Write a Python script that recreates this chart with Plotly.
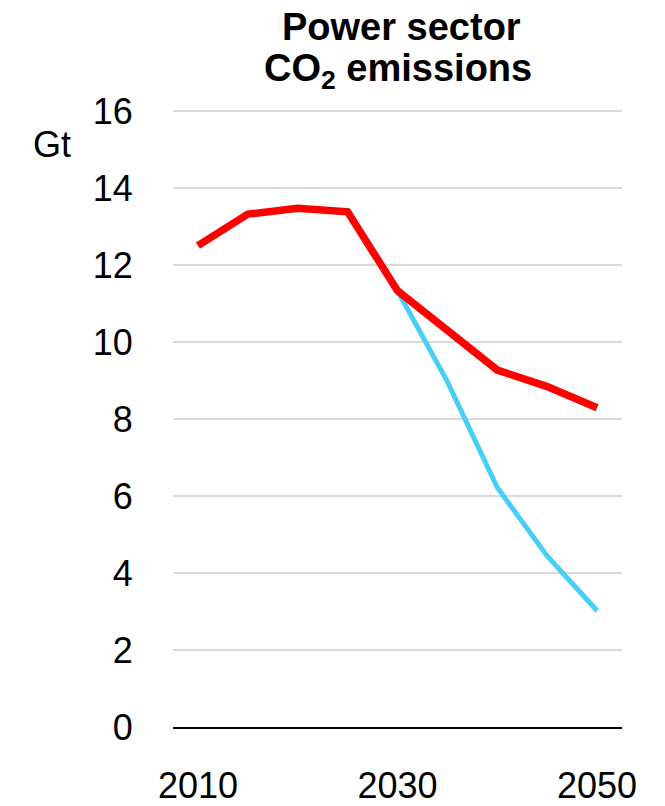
import plotly.graph_objects as go

years = [2010, 2015, 2020, 2025, 2030, 2035, 2040, 2045, 2050]
stated = [12.5, 13.32, 13.47, 13.38, 11.33, 10.31, 9.27, 8.84, 8.29]
years_sds = [2030, 2035, 2040, 2045, 2050]
sds = [11.33, 8.97, 6.22, 4.44, 3.02]
x_ticks = [2010, 2030, 2050]
y_ticks = [0, 2, 4, 6, 8, 10, 12, 14, 16]

FONT = "Liberation Sans, Arial, sans-serif"

fig = go.Figure()
fig.add_trace(go.Scatter(x=years_sds, y=sds, mode="lines",
                         line=dict(color="#48CFF7", width=5), showlegend=False))
fig.add_trace(go.Scatter(x=years, y=stated, mode="lines",
                         line=dict(color="#FF0000", width=7.5), showlegend=False))

fig.update_layout(
    width=665, height=806,
    margin=dict(l=173, r=43, t=109, b=79, autoexpand=False),
    paper_bgcolor="white", plot_bgcolor="white",
    font=dict(family=FONT, size=36, color="black"),
    xaxis=dict(range=[2007.5, 2052.5], tickvals=x_ticks, ticktext=[str(v) for v in x_ticks],
               showgrid=False, zeroline=False, showline=True, linecolor="black", linewidth=2,
               ticks="outside", ticklen=26, tickcolor="rgba(0,0,0,0)", automargin=False,
               tickfont=dict(size=36, family=FONT)),
    yaxis=dict(range=[0, 16.05], tickvals=y_ticks, showgrid=True, gridcolor="#D9D9D9", gridwidth=2,
               zeroline=False, showline=False, automargin=False,
               ticks="outside", ticklen=32, tickcolor="rgba(0,0,0,0)",
               tickfont=dict(size=36, family=FONT)),
    annotations=[
        dict(text="<b>Power sector</b>", xref="paper", yref="paper", x=0.508, y=1.133,
             showarrow=False, xanchor="center", yanchor="middle",
             font=dict(size=38, family=FONT)),
        dict(text="<b>CO<sub>2</sub> emissions</b>", xref="paper", yref="paper", x=0.502, y=1.061,
             showarrow=False, xanchor="center", yanchor="middle",
             font=dict(size=38, family=FONT)),
        dict(text="Gt", xref="paper", yref="paper", x=-0.27, y=0.943,
             showarrow=False, xanchor="center", yanchor="middle",
             font=dict(size=36, family=FONT)),
    ],
)

fig.write_html("out.html", config={"displayModeBar": False},
               post_script="document.body.style.margin='0';document.body.style.overflow='hidden';")
